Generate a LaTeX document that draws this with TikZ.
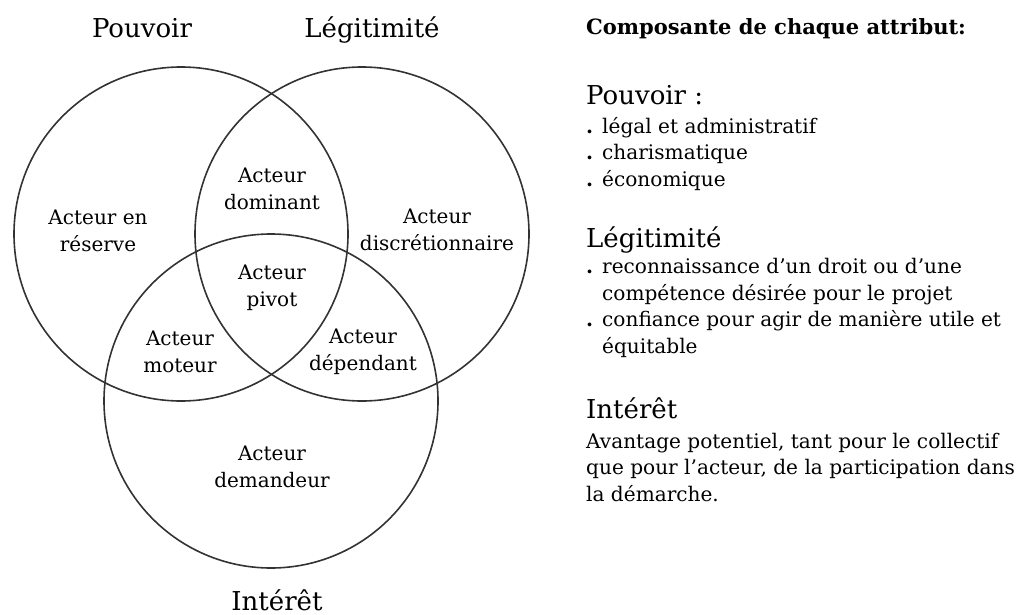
\documentclass[tikz,border=0pt]{standalone}
\usepackage{fontspec}
\setmainfont{DejaVu Serif}
\usetikzlibrary{positioning}
\definecolor{trait}{HTML}{333333}
\tikzset{
    ensemble/.style = {circle,
                    draw=trait,
                    line width=1.6pt,
                    minimum size=334pt,
                    inner sep=0pt},
    attribut/.style = {anchor=base,
                    font=\fontsize{26}{30}\selectfont,
                    text=black,
                    inner sep=0pt},
    acteur/.style = {align=center,
                    font=\fontsize{20}{27}\selectfont,
                    text=black,
                    inner sep=0pt},
    titre/.style =  {anchor=base west,
                    font=\fontsize{21}{24}\selectfont\bfseries,
                    inner sep=0pt},
    rubrique/.style = {anchor=base west,
                    font=\fontsize{26}{30}\selectfont,
                    inner sep=0pt},
    texte/.style =  {anchor=base west,
                    align=left,
                    font=\fontsize{20.1}{26.5}\selectfont,
                    inner sep=0pt}
}
\newcommand{\puce}{\makebox[16pt][l]{\textbf{.}}}
\newcommand{\retrait}{\hspace*{16pt}}

\begin{document}
\begin{tikzpicture}[x=1pt,y=-1pt]
    \useasboundingbox (0,0) rectangle (1019,615);
    % les trois ensembles
    \node[ensemble] (pouv) at (181,234) {};
    \node[ensemble] (legi) at (362,234) {};
    \node[ensemble] (inte) at (271,401) {};
    \node[attribut] (npouv) at (142,38)  {Pouvoir};
    \node[attribut] (nlegi) at (372,38)  {Légitimité};
    \node[attribut] (ninte) at (277,610) {Intérêt};
    % les acteurs
    \node[acteur] (reserve)  at (98,231)  {Acteur en\\réserve};
    \node[acteur] (dominant) at (272,189) {Acteur\\dominant};
    \node[acteur] (discret)  at (437,230) {Acteur\\discrétionnaire};
    \node[acteur] (pivot)    at (272,288) {Acteur\\pivot};
    \node[acteur] (moteur)   at (180,352) {Acteur\\moteur};
    \node[acteur] (dependant) at (363,352) {Acteur\\dépendant};
    \node[acteur] (demandeur) at (272,467) {Acteur\\demandeur};
    % la legende (ancre sur la derniere ligne)
    \node[titre] (legende) at (586,35) {Composante de chaque attribut:};
    \node[rubrique] (rpouv) at (586,105) {Pouvoir :};
    \node[texte] (tpouv) at (586,186) {\puce légal et administratif\\
        \puce charismatique\\
        \puce économique};
    \node[rubrique] (rlegi) at (586,247) {Légitimité};
    \node[texte] (tlegi) at (586,353) {\puce reconnaissance d’un droit ou d’une\\
        \retrait compétence désirée pour le projet\\
        \puce confiance pour agir de manière utile et\\
        \retrait équitable};
    \node[rubrique] (rinte) at (586,418) {Intérêt};
    \node[texte] (tinte) at (586,501) {Avantage potentiel, tant pour le collectif\\
        que pour l’acteur, de la participation dans\\
        la démarche.};
\end{tikzpicture}
\end{document}
